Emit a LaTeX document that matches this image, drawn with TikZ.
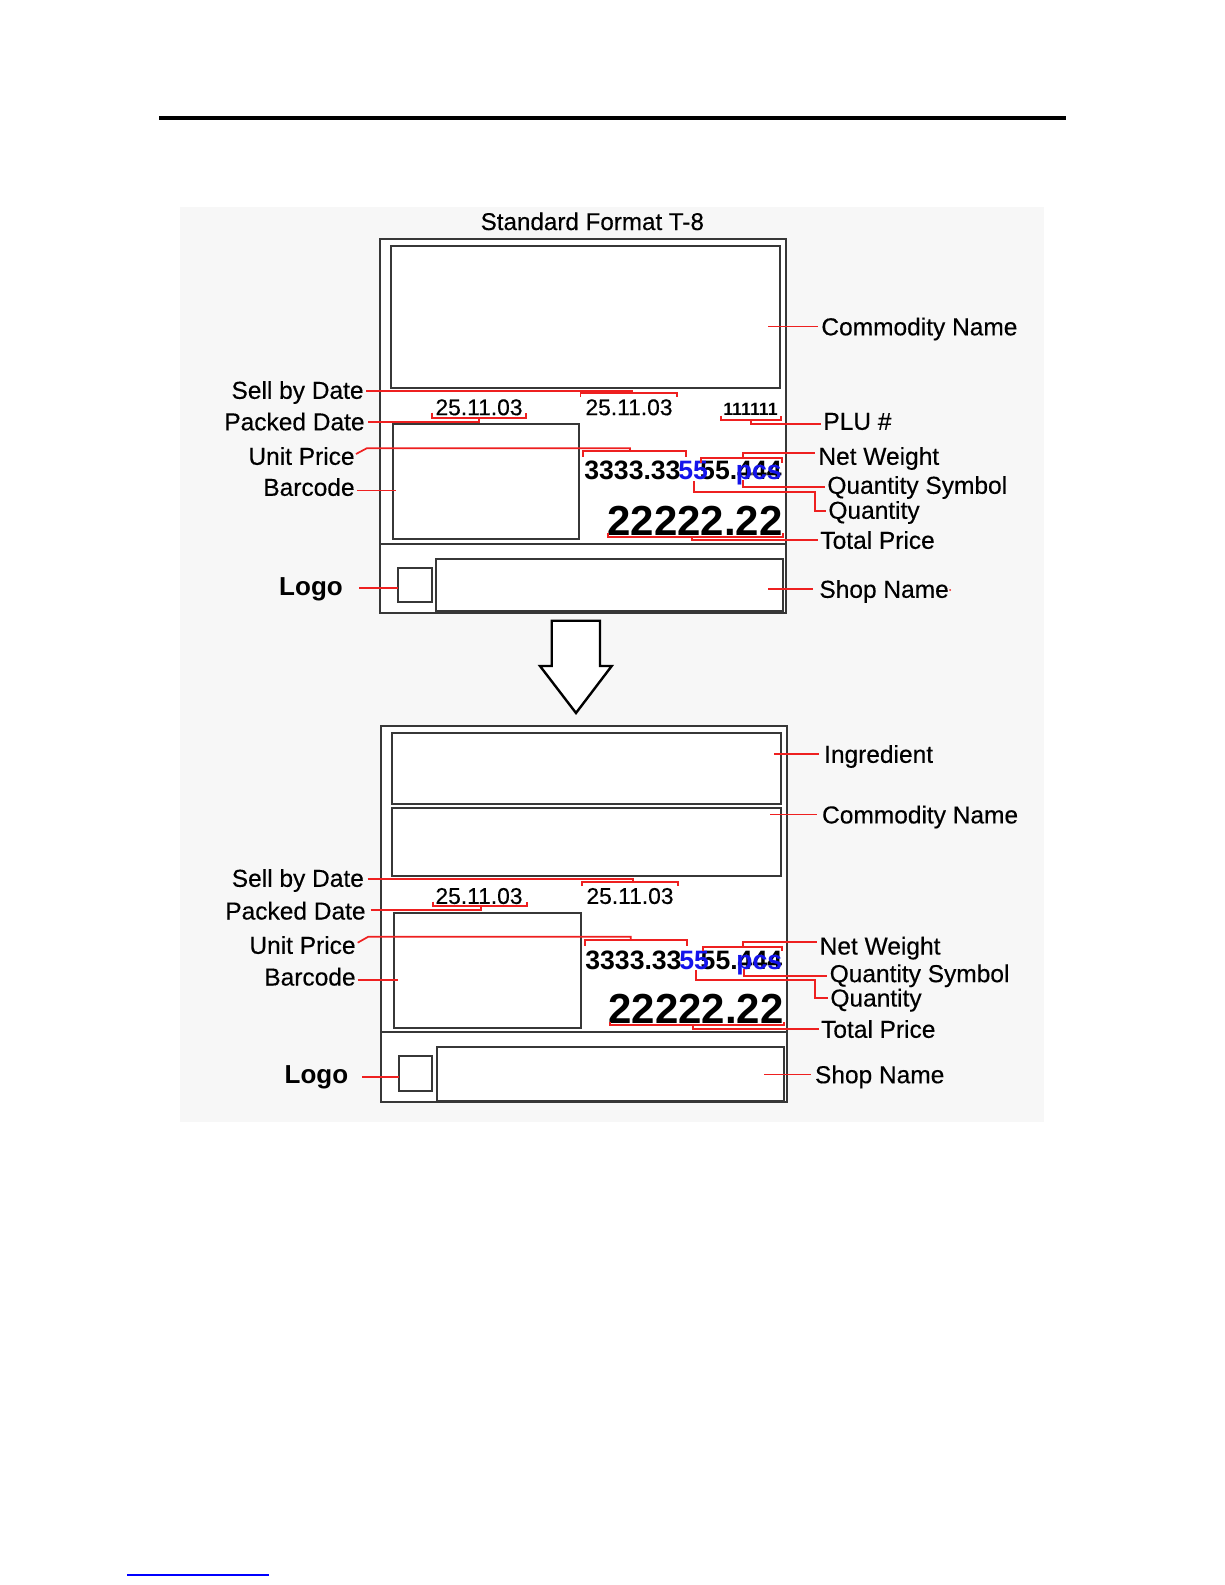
\documentclass[tikz,border=0pt]{standalone}
\usepackage{fontspec}
\setmainfont{Liberation Sans}
\newfontfamily\lblfont{Liberation Sans}[FakeBold=0.35]
\definecolor{leadred}{RGB}{238,32,32}
\definecolor{framegray}{RGB}{55,55,55}
\definecolor{qblue}{RGB}{20,20,235}
\begin{document}
\begin{tikzpicture}[x=0.5pt,y=-0.5pt,
  frm/.style={draw=framegray, line width=1pt},
  rl/.style={draw=leadred, line width=0.85pt},
  lbl/.style={inner sep=0pt, font=\lblfont\fontsize{12.25}{14}\selectfont},
  logolbl/.style={inner sep=0pt, font=\fontsize{13}{15}\selectfont\bfseries},
  datetxt/.style={inner sep=0pt, font=\lblfont\fontsize{11.4}{13}\selectfont},
  plutxt/.style={inner sep=0pt, font=\fontsize{8.9}{10}\selectfont\bfseries},
  numtxt/.style={inner sep=0pt, font=\fontsize{13.3}{15}\selectfont\bfseries},
  qtxt/.style={inner sep=0pt, text=qblue, font=\fontsize{13.3}{15}\selectfont\bfseries},
  totaltxt/.style={inner sep=0pt, font=\fontsize{21}{24}\selectfont\bfseries}]
\useasboundingbox (0,0) rectangle (1225,1585);
\fill[white] (0,0) rectangle (1225,1585);
% header rule
\coordinate (ruleL) at (159,118);
\coordinate (ruleR) at (1066,118);
\draw[line width=2.3pt] (ruleL) -- (ruleR);
% light background panel
\fill[black!3] (180,207) rectangle (1044,1122);
% title
\node[inner sep=0pt, font=\lblfont\fontsize{12.1}{14}\selectfont, anchor=base] (title) at (592.3,230) {Standard Format T-8};

% ================= UPPER LABEL =================
\draw[frm, fill=white] (380,238.5) rectangle (786,612.5);
\draw[frm] (391,245.5) rectangle (780,387.5);
\coordinate (sepUl) at (380,544);
\coordinate (sepUr) at (786,544);
\draw[frm] (sepUl) -- (sepUr);
\draw[frm] (393,424) rectangle (579,539);
\draw[frm] (398,568) rectangle (431.5,601.5);
\draw[frm] (435.5,559) rectangle (783,611);

\node[datetxt, anchor=base] (d1U) at (479,415.2) {25.11.03};
\node[datetxt, anchor=base] (d2U) at (629,415.2) {25.11.03};
\node[plutxt, anchor=base] (pluU) at (750.5,415.7) {111111};
\node[numtxt, anchor=base west] (upU) at (584,479.5) {3333.33};
\node[numtxt, anchor=base east] (nwU) at (782,479.5) {55.444};
\node[qtxt, anchor=base west] (qU) at (678,479.5) {55};
\node[qtxt, anchor=base east] (qsU) at (782,479.5) {pcs};
\node[totaltxt, anchor=base east] (tpU) at (783,535.5) {22222.22};

\node[lbl, anchor=base west] (cnUl) at (821,335.3) {Commodity Name};
\node[lbl, anchor=base east] (sdUl) at (364,398.8) {Sell by Date};
\node[lbl, anchor=base east] (pdUl) at (365,430.3) {Packed Date};
\node[lbl, anchor=base west] (pluUl) at (823,429.8) {PLU \#};
\node[lbl, anchor=base east] (upUl) at (355,464.8) {Unit Price};
\node[lbl, anchor=base west] (nwUl) at (818,464.8) {Net Weight};
\node[lbl, anchor=base east] (bcUl) at (355,495.8) {Barcode};
\node[lbl, anchor=base west] (qsUl) at (827,493.8) {Quantity Symbol};
\node[lbl, anchor=base west] (qUl) at (828,518.8) {Quantity};
\node[lbl, anchor=base west] (tpUl) at (820,548.8) {Total Price};
\node[logolbl, anchor=base] (lgUl) at (311,595.3) {Logo};
\node[lbl, anchor=base west] (snUl) at (819,597.8) {Shop Name};

% leaders upper
\draw[rl] (768,326.5) -- (818,326.5);
\draw[rl] (580.5,397) -- (580.5,393) -- (677,393) -- (677,397);
\draw[rl] (366,391) -- (632,391) -- (632,393);
\draw[rl] (432,412.5) -- (432,418) -- (526,418) -- (526,412.5);
\draw[rl] (368,421.7) -- (479,421.7) -- (479,418);
\draw[rl] (720.7,415.7) -- (720.7,420) -- (781,420) -- (781,415.7);
\draw[rl] (751,420) -- (751,424) -- (821,424);
\draw[rl] (583,456.7) -- (583,451) -- (685.7,451) -- (685.7,456.7);
\draw[rl] (356,454) -- (366.7,448.3) -- (630,448.3) -- (630,451);
\draw[rl] (701,462.7) -- (701,458) -- (781.7,458) -- (781.7,462.7);
\draw[rl] (742.7,458) -- (742.7,453.3) -- (815,453.3);
\draw[rl] (743,480) -- (743,486.7) -- (825,486.7);
\draw[rl] (694,481) -- (694,491.7) -- (815,491.7) -- (815,511) -- (826,511);
\draw[rl] (608,533) -- (608,536.7) -- (782.7,536.7) -- (782.7,533);
\draw[rl] (691.7,536.7) -- (691.7,540) -- (818,540);
\draw[rl] (357,490.5) -- (396,490.5);
\draw[rl] (359,588) -- (398,588);
\draw[rl] (768,589) -- (812.6,589);
\fill[leadred] (950,590) circle (1);

% ================= ARROW =================
\draw[line width=1.2pt, fill=white, line join=miter] (551.7,620.7) -- (600,620.7) -- (600,666) -- (611.7,666) -- (576,713) -- (540,666) -- (551.7,666) -- cycle;

% ================= LOWER LABEL =================
\draw[frm, fill=white] (381,725.7) rectangle (787,1101.7);
\draw[frm] (392,733) rectangle (781,803.5);
\draw[frm] (392,807.5) rectangle (781,876);
\draw[frm] (394.3,913.3) rectangle (580.7,1028);
\coordinate (sepLl) at (381,1032);
\coordinate (sepLr) at (787,1032);
\draw[frm] (sepLl) -- (sepLr);
\draw[frm] (399,1056) rectangle (431.6,1090.5);
\draw[frm] (436.6,1047) rectangle (784,1100.7);

\node[datetxt, anchor=base] (d1L) at (479,903.9) {25.11.03};
\node[datetxt, anchor=base] (d2L) at (630,903.9) {25.11.03};
\node[numtxt, anchor=base west] (upL) at (585,969.5) {3333.33};
\node[numtxt, anchor=base east] (nwL) at (782.5,969.5) {55.444};
\node[qtxt, anchor=base west] (qL) at (679,969.5) {55};
\node[qtxt, anchor=base east] (qsL) at (782.5,969.5) {pcs};
\node[totaltxt, anchor=base east] (tpL) at (784,1023.5) {22222.22};

\node[lbl, anchor=base west] (inLl) at (823.7,762.8) {Ingredient};
\node[lbl, anchor=base west] (cnLl) at (821.7,823.4) {Commodity Name};
\node[lbl, anchor=base east] (sdLl) at (364.3,886.8) {Sell by Date};
\node[lbl, anchor=base east] (pdLl) at (366,919.5) {Packed Date};
\node[lbl, anchor=base east] (upLl) at (356,953.8) {Unit Price};
\node[lbl, anchor=base west] (nwLl) at (819.3,954.5) {Net Weight};
\node[lbl, anchor=base east] (bcLl) at (356,985.5) {Barcode};
\node[lbl, anchor=base west] (qsLl) at (829.3,982.1) {Quantity Symbol};
\node[lbl, anchor=base west] (qLl) at (830,1006.5) {Quantity};
\node[lbl, anchor=base west] (tpLl) at (820.7,1037.8) {Total Price};
\node[logolbl, anchor=base] (lgLl) at (316.4,1083.7) {Logo};
\node[lbl, anchor=base west] (snLl) at (814.6,1083.2) {Shop Name};

% leaders lower
\draw[rl] (774,754) -- (818.7,754);
\draw[rl] (770,814.6) -- (816.7,814.6);
\draw[rl] (581.7,886) -- (581.7,882) -- (678,882) -- (678,886);
\draw[rl] (367.7,879.3) -- (633,879.3) -- (633,882);
\draw[rl] (433,901.7) -- (433,906) -- (526.7,906) -- (526.7,901.7);
\draw[rl] (370.7,910.3) -- (480.7,910.3) -- (480.7,906);
\draw[rl] (585,945.7) -- (585,940) -- (686.7,940) -- (686.7,945.7);
\draw[rl] (357.7,942.7) -- (368.3,936.7) -- (630.7,936.7) -- (630.7,940);
\draw[rl] (702.7,951) -- (702.7,946.7) -- (782.3,946.7) -- (782.3,951);
\draw[rl] (743.3,946.7) -- (743.3,942.3) -- (817.3,942.3);
\draw[rl] (744.3,969) -- (744.3,976) -- (827,976);
\draw[rl] (695.7,970) -- (695.7,980) -- (815,980) -- (815,998.3) -- (828,998.3);
\draw[rl] (610,1021.7) -- (610,1025) -- (784,1025) -- (784,1021.7);
\draw[rl] (693.3,1025) -- (693.3,1029) -- (819,1029);
\draw[rl] (357.7,980) -- (397.7,980);
\draw[rl] (362,1077) -- (399,1077);
\draw[rl] (764,1074.4) -- (810.6,1074.4);

% footer link underline
\coordinate (linkL) at (127,1575);
\coordinate (linkR) at (269,1575);
\draw[blue, line width=0.7pt] (linkL) -- (linkR);
\end{tikzpicture}
\end{document}
